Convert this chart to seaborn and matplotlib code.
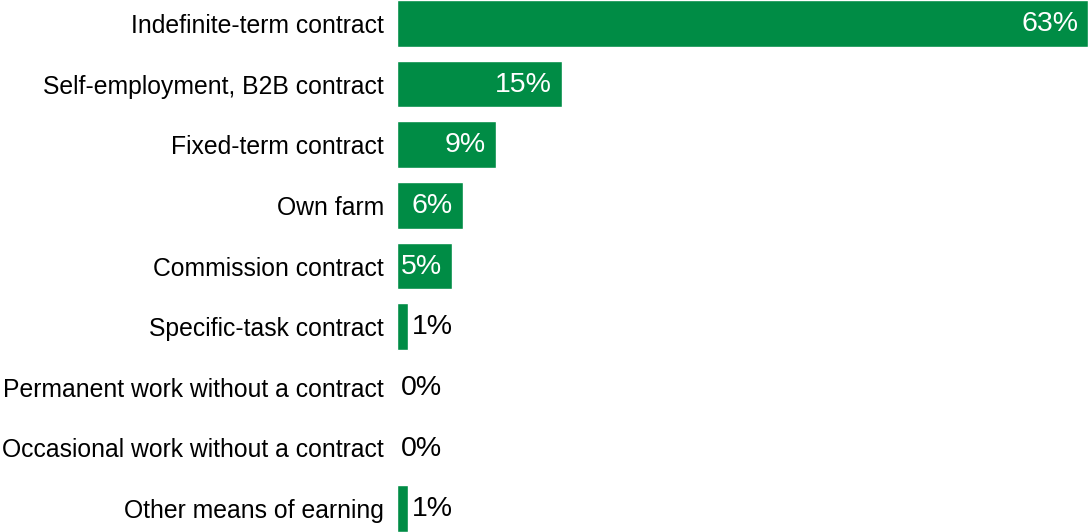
import pandas as pd
import matplotlib
matplotlib.use("Agg")
import matplotlib.pyplot as plt
import seaborn as sns

sns.set_style("white")
plt.rcParams["font.family"] = ["Liberation Sans", "DejaVu Sans"]

categories = [
    "Indefinite-term contract",
    "Self-employment, B2B contract",
    "Fixed-term contract",
    "Own farm",
    "Commission contract",
    "Specific-task contract",
    "Permanent work without a contract",
    "Occasional work without a contract",
    "Other means of earning",
]
shares = [63, 15, 9, 6, 5, 1, 0, 0, 1]

df = pd.DataFrame({"category": categories, "share": shares})

green = "#008C45"

fig = plt.figure(figsize=(10.88, 5.32), dpi=100)
ax = fig.add_axes([397 / 1088, 0, 691 / 1088, 1])

sns.barplot(data=df, x="share", y="category", color=green,
            saturation=1, width=0.77, ax=ax)

ax.set_xlim(0, 63)
ax.set_ylim(len(categories) - 1 + 0.385, -0.385)
ax.set_xlabel("")
ax.set_ylabel("")
ax.set_xticks([])
ax.tick_params(axis="y", length=0, pad=9.5, labelsize=17.85, labelcolor="black")
sns.despine(ax=ax, left=True, bottom=True, top=True, right=True)

# value labels: inside the bar (white) when wide enough, else outside (black)
for i, v in enumerate(shares):
    if v >= 5:
        ax.annotate(f"{v}%", xy=(v, i), xytext=(-7, -0.5), textcoords="offset points",
                    ha="right", va="center", color="white", fontsize=20.5)
    else:
        ax.annotate(f"{v}%", xy=(v, i), xytext=(3, -0.5), textcoords="offset points",
                    ha="left", va="center", color="black", fontsize=20.5)

fig.savefig("out.png", dpi=100)
